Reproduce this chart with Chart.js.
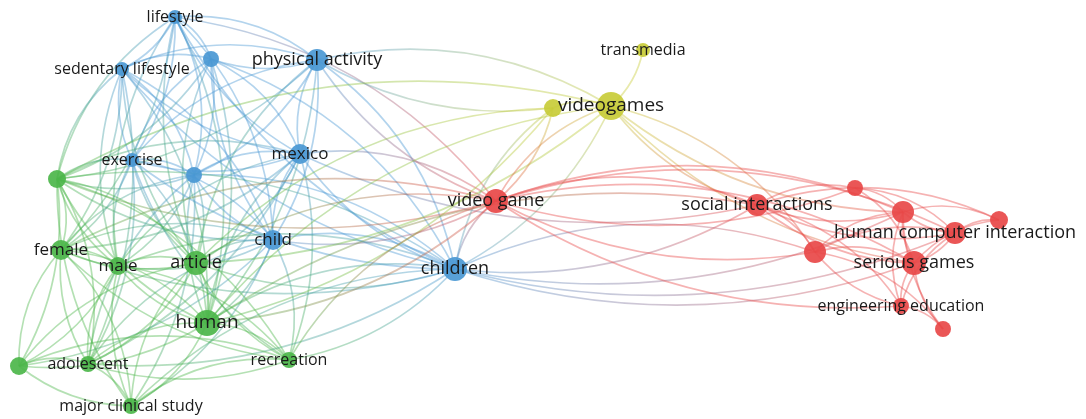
<!DOCTYPE html>
<html>
<head>
<meta charset="utf-8">
<script src="https://cdn.jsdelivr.net/npm/chart.js@4.4.0/dist/chart.umd.min.js"></script>
<style>
  html, body { margin: 0; padding: 0; background: #fff; }
  #wrap { width: 1086px; height: 419px; }
</style>
</head>
<body>
<div id="wrap"><canvas id="net" width="1086" height="419"></canvas></div>
<script>
// keyword map: nodes (map coords), weights, clusters, and co-occurrence links
const labels = [
  'lifestyle', '', 'sedentary lifestyle', 'physical activity', 'exercise', '', 'mexico', 'child', 'children',
  '', 'female', 'male', 'article', 'human', 'recreation', '', 'adolescent', 'major clinical study',
  'transmedia', '', 'videogames',
  'video game', 'social interactions', '', '', '', 'human computer interaction', '', 'serious games', 'engineering education', ''
];
const xs = [175, 211, 122, 317, 132, 194, 300, 273, 455, 57, 61, 118, 196, 207, 289, 19, 88, 131, 643, 553, 611, 496, 757, 855, 903, 999, 955, 815, 914, 901, 943];
const ys = [17, 59, 69, 60, 160, 175, 154, 240, 269, 179, 250, 266, 263, 323, 360, 366, 364, 406, 50, 108, 106, 201, 205, 188, 212, 220, 233, 252, 263, 306, 329];
const weights = [7, 8, 7, 11, 7, 8, 10, 10, 12, 9, 10, 9, 12, 13, 8, 9, 8, 8, 7, 9, 14, 12, 11, 8, 11, 9, 11, 11, 12, 8, 8];
const clusters = [0, 0, 0, 0, 0, 0, 0, 0, 0, 1, 1, 1, 1, 1, 1, 1, 1, 1, 2, 2, 2, 3, 3, 3, 3, 3, 3, 3, 3, 3, 3];
const clusterNames = ['Cluster 1', 'Cluster 2', 'Cluster 3', 'Cluster 4'];

// links: node index -> linked node indices
const links = {
  0: [1, 2, 3, 4, 5, 6, 7, 8, 9, 10, 11, 12, 13, 21],
  1: [2, 3, 4, 5, 6, 7, 8, 9, 12, 13],
  2: [3, 4, 5, 6, 7, 8, 9, 10, 11, 12, 13, 16],
  3: [4, 5, 6, 7, 8, 9, 12, 13, 19, 20, 21],
  4: [5, 6, 7, 8, 9, 10, 11, 12, 13, 14, 16],
  5: [6, 7, 8, 9, 10, 11, 12, 13, 16, 17],
  6: [7, 8, 9, 10, 11, 12, 13, 14, 16, 21, 22],
  7: [8, 9, 10, 11, 12, 13, 14, 15, 16, 17, 21],
  8: [9, 10, 11, 12, 13, 14, 16, 17, 19, 20, 21, 22, 24, 26, 27, 28],
  9: [10, 11, 12, 13, 14, 15, 16, 17, 20, 21],
  10: [11, 12, 13, 14, 15, 16, 17, 21],
  11: [12, 13, 14, 15, 16, 17],
  12: [13, 14, 15, 16, 17, 19, 20, 21],
  13: [14, 15, 16, 17, 19, 20, 21, 22],
  14: [15, 16, 17, 21],
  15: [16, 17],
  16: [17],
  18: [20],
  19: [20, 21],
  20: [21, 22, 24, 27, 28],
  21: [22, 23, 24, 26, 27, 28, 29],
  22: [23, 24, 25, 26, 27, 28, 29],
  23: [24, 26, 28],
  24: [25, 26, 27, 28, 29, 30],
  25: [26, 28],
  26: [27, 28, 29],
  27: [28, 29, 30],
  28: [29, 30],
  29: [30]
};

const clusterRgb = [[74, 152, 212], [76, 182, 74], [200, 204, 56], [232, 72, 72]];
const rgba = (c, a) => `rgba(${c[0]},${c[1]},${c[2]},${a})`;

const datasets = clusterNames.map((name, ci) => {
  const pts = [];
  xs.forEach((x, i) => {
    if (clusters[i] === ci) pts.push({ x, y: ys[i], r: weights[i], i });
  });
  return {
    label: name,
    data: pts,
    backgroundColor: rgba(clusterRgb[ci], 0.92),
    borderWidth: 0,
    hoverRadius: 0,
  };
});

// curved links behind the bubbles (colour blends from one end to the other), labels on top
const linkPlugin = {
  id: 'links',
  beforeDatasetsDraw(chart) {
    const { ctx, scales } = chart;
    ctx.save();
    ctx.lineWidth = 1.7;
    Object.keys(links).forEach((k) => {
      links[k].forEach((t) => {
        let a = +k, b = t;
        const bow = (a + b) % 2 === 0 ? -0.17 : 0.2;
        if (xs[a] > xs[b]) [a, b] = [b, a];
        const x1 = scales.x.getPixelForValue(xs[a]);
        const y1 = scales.y.getPixelForValue(ys[a]);
        const x2 = scales.x.getPixelForValue(xs[b]);
        const y2 = scales.y.getPixelForValue(ys[b]);
        const dx = x2 - x1, dy = y2 - y1;
        const cx = (x1 + x2) / 2 + dy * bow;
        const cy = (y1 + y2) / 2 - dx * bow;
        const g = ctx.createLinearGradient(x1, y1, x2, y2);
        g.addColorStop(0, rgba(clusterRgb[clusters[a]], 0.42));
        g.addColorStop(1, rgba(clusterRgb[clusters[b]], 0.42));
        ctx.strokeStyle = g;
        ctx.beginPath();
        ctx.moveTo(x1, y1);
        ctx.quadraticCurveTo(cx, cy, x2, y2);
        ctx.stroke();
      });
    });
    ctx.restore();
  },
  afterDatasetsDraw(chart) {
    const { ctx, scales } = chart;
    ctx.save();
    ctx.textAlign = 'center';
    ctx.textBaseline = 'middle';
    ctx.fillStyle = '#1a1a1a';
    labels.forEach((t, i) => {
      if (!t) return;
      const fs = Math.round(12.3 + weights[i] * 0.5);
      ctx.font = `${fs}px "Open Sans", sans-serif`;
      ctx.fillText(t, scales.x.getPixelForValue(xs[i]), scales.y.getPixelForValue(ys[i]));
    });
    ctx.restore();
  }
};

new Chart(document.getElementById('net'), {
  type: 'bubble',
  data: { datasets },
  options: {
    responsive: false,
    animation: false,
    layout: { padding: 0, autoPadding: false },
    plugins: { legend: { display: false }, tooltip: { enabled: false } },
    scales: {
      x: { type: 'linear', min: 0, max: 1086, display: false },
      y: { type: 'linear', min: 0, max: 419, reverse: true, display: false },
    },
    elements: { point: { borderWidth: 0 } },
  },
  plugins: [linkPlugin],
});
</script>
</body>
</html>
